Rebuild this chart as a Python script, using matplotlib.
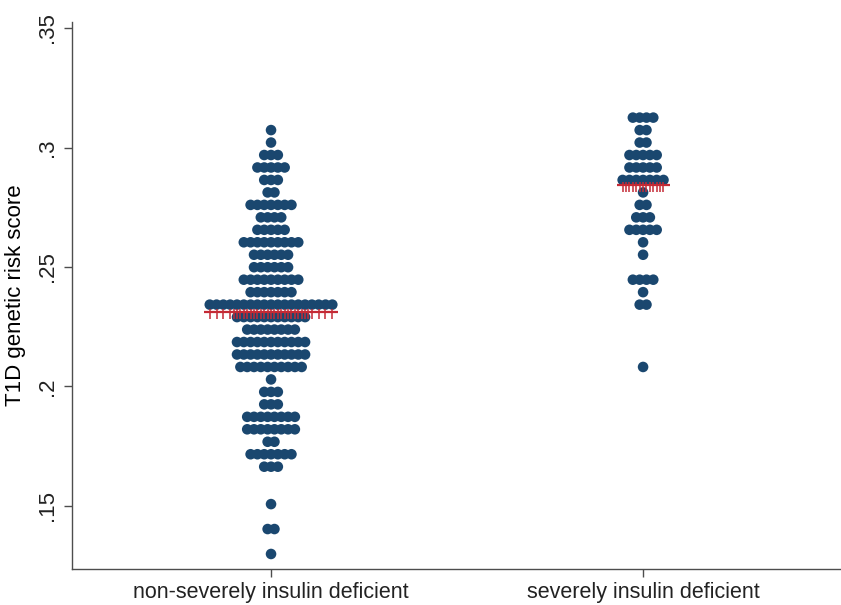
import numpy as np
import matplotlib
matplotlib.use("Agg")
import matplotlib.pyplot as plt

plt.rcParams["font.family"] = ["Liberation Sans", "DejaVu Sans"]

# dot plot data: bin centres (top row first) and number of subjects per bin
bin_top = 0.3073
bin_width = 0.005218
group_names = ["non-severely insulin deficient", "severely insulin deficient"]

# rows k = 0..34 below bin_top
non_severe_counts = [1, 1, 3, 5, 3, 2, 7, 4, 5, 9, 6, 6, 9, 7, 19, 11, 8, 11,
                     11, 10, 1, 3, 3, 8, 8, 2, 7, 3, 0, 0, 1, 0, 2, 0, 1]
# rows k = -1..19 (one bin above bin_top)
severe_counts = [4, 2, 2, 5, 5, 7, 1, 2, 3, 5, 1, 1, 0, 4, 1, 2, 0, 0, 0, 0, 1]
severe_first_row = -1

medians = [0.2312, 0.2843]

yticks = [0.15, 0.2, 0.25, 0.3, 0.35]
ytick_labels = [".15", ".2", ".25", ".3", ".35"]

navy = "#1a476f"
red = "#c42a35"
axis_col = "#4d4d4d"

step = 0.0183  # horizontal spacing between dots, in x units


def dot_positions(center, counts, first_row):
    xs, ys = [], []
    for i, n in enumerate(counts):
        k = first_row + i
        yv = bin_top - k * bin_width
        for j in range(n):
            xs.append(center + (j - (n - 1) / 2) * step)
            ys.append(yv)
    return np.array(xs), np.array(ys)


fig = plt.figure(figsize=(8.41, 6.05), dpi=100)
ax = fig.add_axes([0.0856, 0.0595, 0.9144, 0.904])

groups = [(1, non_severe_counts, 0), (2, severe_counts, severe_first_row)]
for center, counts, first in groups:
    xs, ys = dot_positions(center, counts, first)
    ax.scatter(xs, ys, s=58, color=navy, edgecolors="none", zorder=2)

# median lines with tick marks
for center, counts, first in groups:
    med = medians[center - 1]
    nmax = max(counts)
    half = (nmax - 1) / 2
    ax.plot([center - (half + 0.9) * step, center + (half + 0.9) * step], [med, med],
            color=red, lw=1.6, zorder=3, solid_capstyle="butt")
    ticks = [center + (j - half) * step for j in range(nmax)]
    ninner = 12 if nmax > 10 else 6
    ticks += [center + (j - (ninner - 1) / 2) * step for j in range(ninner)]
    ax.plot(ticks, [med - 0.0008] * len(ticks), ls="none", marker="|", ms=7.5,
            mew=1.1, color=red, zorder=3)

ax.set_xlim(0.465, 2.532)
ax.set_ylim(0.1236, 0.3525)
ax.set_xticks([1, 2])
ax.set_xticklabels(group_names, fontsize=15.5)
ax.set_yticks(yticks)
ax.set_yticklabels(ytick_labels, fontsize=16, rotation=90, va="center")
ax.set_ylabel("T1D genetic risk score", fontsize=16, labelpad=8)

for side in ["top", "right"]:
    ax.spines[side].set_visible(False)
for side in ["left", "bottom"]:
    ax.spines[side].set_color(axis_col)
    ax.spines[side].set_linewidth(1.0)
ax.tick_params(axis="both", colors=axis_col, labelcolor="#222222", length=6, width=1.0)
ax.tick_params(axis="x", pad=3)
ax.tick_params(axis="y", pad=4)

fig.savefig("out.png", dpi=100)
